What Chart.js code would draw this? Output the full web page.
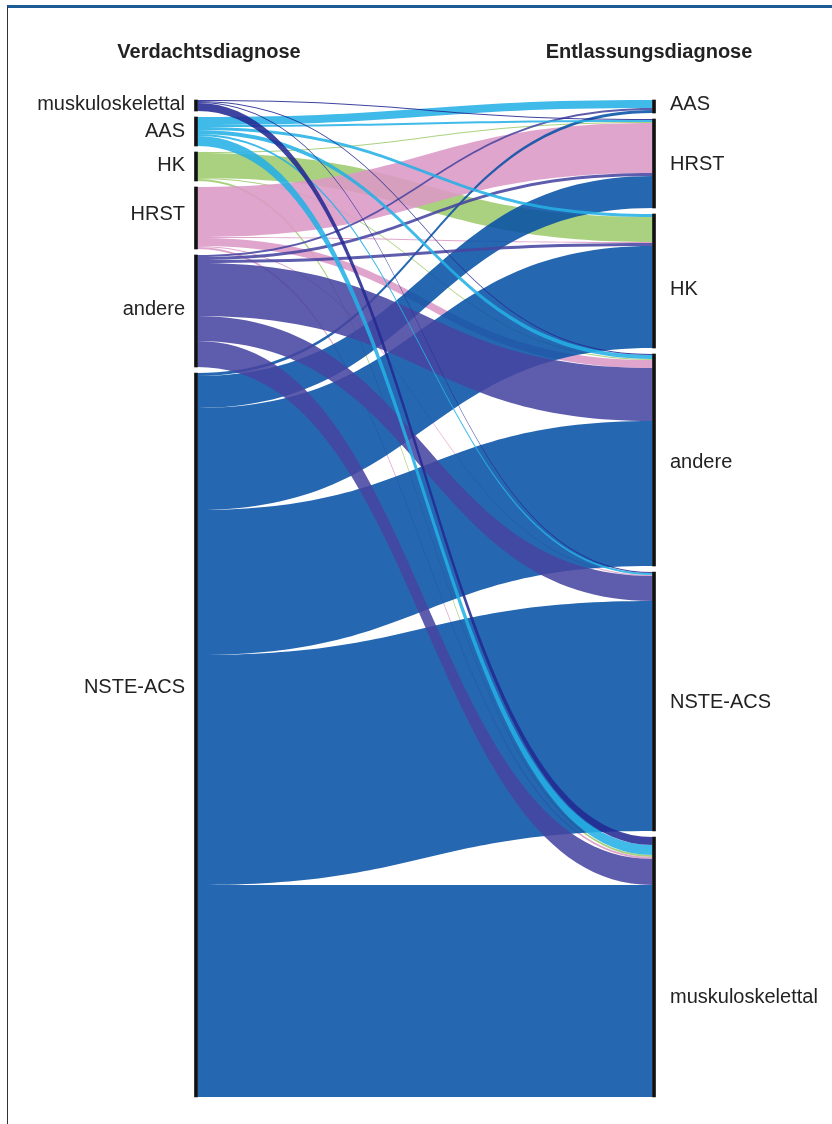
<!DOCTYPE html>
<html lang="de">
<head>
<meta charset="utf-8">
<title>Verdachtsdiagnose vs. Entlassungsdiagnose</title>
<script src="https://cdn.jsdelivr.net/npm/chart.js@4/dist/chart.umd.min.js"></script>
<style>
  html, body { margin: 0; padding: 0; background: #fff; }
  #frame {
    position: absolute; left: 7px; top: 5px; width: 825px; height: 1119px;
    border-top: 3px solid #1d5b96; border-left: 1px solid #333;
  }
  #sankey { position: absolute; left: 0; top: 0; }
</style>
</head>
<body>
<div id="frame"></div>
<canvas id="sankey" width="832" height="1124"></canvas>
<script>
(function () {
    "use strict";

    // Nodes (top to bottom)
    var leftNodes = ['muskuloskelettal', 'AAS', 'HK', 'HRST', 'andere', 'NSTE-ACS'];
    var rightNodes = ['AAS', 'HRST', 'HK', 'andere', 'NSTE-ACS', 'muskuloskelettal'];

    // Patients per suspected diagnosis -> discharge diagnosis (in rightNodes order)
    var fromMuskulo = [0, 1, 0, 1, 1, 8];
    var fromAAS = [8, 2, 3, 4, 2, 10];
    var fromHK = [0, 1, 25, 1, 0, 2];
    var fromHRST = [0, 50, 1, 8, 1, 2];
    var fromAndere = [2, 3, 3, 53, 25, 26];
    var fromNSTE = [3, 32, 102, 145, 230, 212];

    var flowRows = [fromMuskulo, fromAAS, fromHK, fromHRST, fromAndere, fromNSTE];

    // Styles
    var sourceColors = ['rgb(36,42,147)', 'rgb(38,176,229)', 'rgb(158,203,109)',
                        'rgb(220,152,198)', 'rgb(72,69,161)', 'rgb(8,82,166)'];
    var drawOrder = [2, 3, 5, 4, 1, 0];
    var linkAlpha = 0.88;
    var nodeGap = 6;
    var leftLabelNudge = [-1, 0, -1, -4, -2, -48];
    var rightLabelNudge = [-2, 1, 8, 2, 1, 30];

    // node extents in value units
    var leftSize = flowRows.map(function (r) { return r.reduce(function (a, b) { return a + b; }, 0); });
    var rightSize = rightNodes.map(function (n, j) {
        return flowRows.reduce(function (a, r) { return a + r[j]; }, 0);
    });
    function stackStarts(sizes) {
        var out = [], pos = 0;
        sizes.forEach(function (s) { out.push(pos); pos += s + nodeGap; });
        return out;
    }
    var leftStart = stackStarts(leftSize);
    var rightStart = stackStarts(rightSize);
    var total = leftStart[5] + leftSize[5];

    var nodeBars = [];
    leftNodes.forEach(function (n, i) { nodeBars.push({x: 0, y: [leftStart[i], leftStart[i] + leftSize[i]]}); });
    rightNodes.forEach(function (n, j) { nodeBars.push({x: 1, y: [rightStart[j], rightStart[j] + rightSize[j]]}); });


    // Links + labels
    var sankeyPlugin = {
        id: 'sankeyLinks',
        beforeDatasetsDraw: function (chart) {
            var ctx = chart.ctx, xs = chart.scales.x, ys = chart.scales.y;
            var x0 = xs.getPixelForValue(0) + 1.5, x1 = xs.getPixelForValue(1) - 1.5;
            var xm = (x0 + x1) / 2;
            var lUsed = leftStart.slice(), rUsed = rightStart.slice();
            var ribbons = flowRows.map(function () { return []; });

            flowRows.forEach(function (row, i) {
                row.forEach(function (v, j) {
                    if (!v) return;
                    ribbons[i].push({
                        s0: ys.getPixelForValue(lUsed[i]), s1: ys.getPixelForValue(lUsed[i] + v),
                        t0: ys.getPixelForValue(rUsed[j]), t1: ys.getPixelForValue(rUsed[j] + v)
                    });
                    lUsed[i] += v;
                    rUsed[j] += v;
                });
            });

            ctx.save();
            ctx.globalAlpha = linkAlpha;
            drawOrder.forEach(function (i) {
                ctx.fillStyle = sourceColors[i];
                ribbons[i].forEach(function (r) {
                    ctx.beginPath();
                    ctx.moveTo(x0, r.s0);
                    ctx.bezierCurveTo(xm, r.s0, xm, r.t0, x1, r.t0);
                    ctx.lineTo(x1, r.t1);
                    ctx.bezierCurveTo(xm, r.t1, xm, r.s1, x0, r.s1);
                    ctx.closePath();
                    ctx.fill();
                });
            });
            ctx.restore();
        },
        afterDraw: function (chart) {
            var ctx = chart.ctx, xs = chart.scales.x, ys = chart.scales.y;
            var xl = xs.getPixelForValue(0), xr = xs.getPixelForValue(1);
            ctx.save();
            ctx.fillStyle = '#222';
            ctx.textBaseline = 'middle';

            ctx.font = 'bold 20px "Liberation Sans", Arial, sans-serif';
            ctx.textAlign = 'center';
            ctx.fillText('Verdachtsdiagnose', xl + 13, 52);
            ctx.fillText('Entlassungsdiagnose', xr - 5, 52);

            ctx.font = '20px "Liberation Sans", Arial, sans-serif';
            ctx.textAlign = 'right';
            leftNodes.forEach(function (n, i) {
                var yc = ys.getPixelForValue(leftStart[i] + leftSize[i] / 2);
                ctx.fillText(n, xl - 11, yc + leftLabelNudge[i]);
            });
            ctx.textAlign = 'left';
            rightNodes.forEach(function (n, j) {
                var yc = ys.getPixelForValue(rightStart[j] + rightSize[j] / 2);
                ctx.fillText(n, xr + 16, yc + rightLabelNudge[j]);
            });
            ctx.restore();
        }
    };

    var ctx = document.getElementById('sankey').getContext('2d');
    new Chart(ctx, {
        type: 'bar',
        data: {
            datasets: [{
                label: 'Knoten',
                data: nodeBars,
                backgroundColor: '#111',
                barThickness: 3,
                clip: false
            }]
        },
        options: {
            responsive: false,
            animation: false,
            layout: { padding: { left: 196, right: 178, top: 100, bottom: 27 } },
            scales: {
                x: { type: 'linear', min: 0, max: 1, offset: false, display: false },
                y: { type: 'linear', min: 0, max: total, reverse: true, display: false }
            },
            plugins: {
                legend: { display: false },
                tooltip: { enabled: false }
            }
        },
        plugins: [sankeyPlugin]
    });

})();
</script>
</body>
</html>
